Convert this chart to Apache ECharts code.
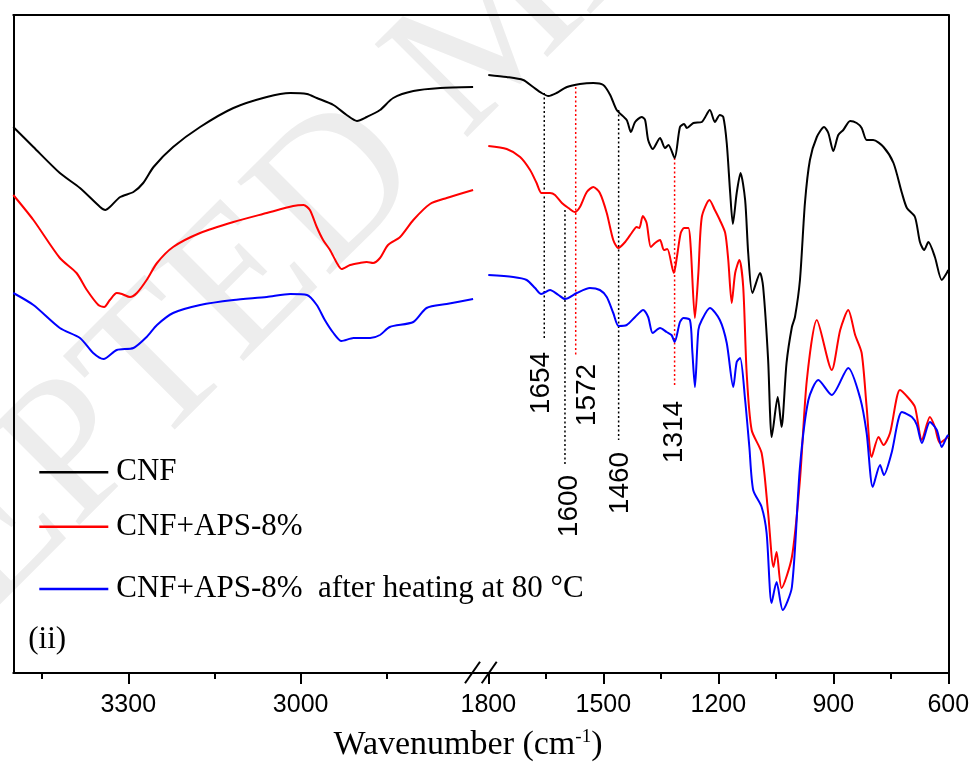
<!DOCTYPE html>
<html>
<head>
<meta charset="utf-8">
<script src="https://cdn.jsdelivr.net/npm/echarts@6/dist/echarts.min.js"></script>
<style>html,body{margin:0;padding:0;background:#fff}#c{width:973px;height:773px}</style>
</head>
<body>
<div id="c"></div>
<script>
// ---------- DATA (wavenumber in cm-1, transmittance in arbitrary units) ----------
// High-wavenumber window 3500-2700 cm-1
const cnfHighWn = [3500,3465,3419,3384,3349,3340,3332,3314,3291,3274,3256,3222,3175,3117,3059,3018,2989,2972,2943,2920,2902,2885,2862,2839,2804,2757,2700];
const cnfHighT  = [54.6,52.6,50.0,48.5,46.6,46.3,46.6,47.6,48.1,49.0,50.6,52.6,54.6,56.5,57.6,58.0,57.9,57.5,56.8,55.8,55.2,55.6,56.3,57.5,58.2,58.5,58.6];

const apsHighWn = [3500,3465,3419,3390,3372,3352,3342,3332,3320,3311,3297,3285,3268,3250,3222,3175,3117,3059,3013,2995,2984,2972,2961,2949,2937,2929,2914,2897,2885,2874,2862,2848,2827,2804,2775,2746,2700];
const apsHighT  = [47.8,45.3,41.5,40.0,38.3,36.8,36.6,37.3,38.0,37.9,37.6,38.0,39.3,41.0,42.6,44.0,45.1,46.0,46.7,46.8,46.3,44.6,43.3,42.3,41.0,40.4,40.8,41.0,41.1,41.0,41.5,42.8,43.6,45.3,46.9,47.5,48.3];

const heatHighWn = [3500,3465,3419,3384,3361,3343,3320,3291,3268,3250,3222,3175,3117,3059,3018,2989,2972,2958,2943,2929,2908,2879,2862,2845,2804,2781,2746,2700];
const heatHighT  = [38.0,36.8,34.5,33.5,32.0,31.4,32.3,32.5,33.6,34.8,36.0,36.8,37.3,37.6,37.9,37.8,36.8,35.3,34.0,33.2,33.5,33.5,33.8,34.6,35.1,36.5,36.9,37.4];

// Fingerprint window 1800-600 cm-1
const cnfLowWn = [1800,1752,1709,1683,1661,1643,1622,1595,1561,1526,1500,1482,1465,1439,1428,1417,1400,1391,1383,1371,1352,1339,1330,1314,1300,1289,1282,1265,1243,1222,1209,1196,1187,1178,1169,1162,1152,1142,1130,1122,1111,1091,1083,1070,1065,1061,1045,1035,1022,1008,1000,987,974,961,943,924,913,900,887,874,856,839,826,813,796,769,743,721,708,687,674,663,652,635,617,604,600];
const cnfLowT  = [59.8,59.6,59.3,58.6,58.0,57.7,58.0,58.6,58.9,59.0,58.8,57.8,56.3,55.3,54.1,55.1,55.6,55.3,53.3,52.4,53.5,52.5,52.8,51.5,54.6,54.9,54.5,55.0,55.1,56.3,55.1,55.8,55.6,53.0,48.0,44.9,48.0,50.0,47.3,42.0,38.0,40.0,38.6,31.3,26.0,23.6,27.6,24.6,31.0,34.6,35.6,39.3,47.0,51.3,53.6,54.6,54.0,52.2,53.8,54.3,55.2,55.0,54.5,53.3,53.3,52.6,51.0,48.0,46.5,45.6,43.1,42.3,43.1,41.6,39.3,40.0,40.3];

const apsLowWn = [1800,1752,1717,1691,1674,1661,1639,1626,1608,1591,1574,1561,1543,1526,1509,1491,1474,1461,1443,1426,1413,1406,1397,1387,1376,1365,1352,1342,1333,1316,1308,1298,1289,1278,1272,1261,1252,1243,1223,1209,1196,1182,1174,1165,1156,1145,1135,1126,1113,1087,1070,1056,1048,1035,1008,987,969,943,904,882,861,843,826,813,800,782,769,752,726,704,687,669,648,635,622,604,600];
const apsLowT  = [52.7,52.4,51.6,50.3,49.0,48.0,48.0,47.8,47.0,46.5,46.1,46.6,48.1,48.6,48.0,46.0,43.3,42.5,43.1,44.0,44.6,44.5,45.7,45.0,42.6,43.0,43.3,42.3,42.4,40.0,41.6,44.0,44.5,44.5,42.6,35.5,40.0,45.6,47.3,46.3,45.3,44.0,41.3,37.0,40.0,41.3,38.6,30.0,24.3,22.0,16.0,10.6,12.1,8.5,11.6,19.3,29.3,35.3,30.3,34.3,36.3,33.8,32.0,26.6,21.6,23.6,22.8,24.0,28.3,27.5,26.6,23.3,25.6,24.6,23.0,23.5,23.6];

const heatLowWn = [1800,1735,1700,1678,1662,1639,1617,1600,1569,1535,1509,1491,1474,1460,1439,1417,1396,1383,1371,1352,1335,1322,1314,1300,1291,1274,1268,1261,1252,1243,1222,1196,1178,1161,1152,1143,1130,1119,1109,1087,1074,1061,1048,1032,1008,987,965,939,904,861,830,813,797,778,768,748,721,695,682,669,648,630,617,604,600];
const heatLowT  = [39.8,39.6,39.3,38.5,37.9,38.3,37.8,37.4,38.0,38.5,38.3,37.6,36.0,34.7,34.8,35.6,36.3,35.6,34.0,34.5,34.1,33.8,33.1,35.1,35.5,35.3,32.3,28.6,34.3,35.3,36.5,35.3,33.0,28.6,31.1,31.5,27.3,22.6,18.3,16.6,14.0,7.0,9.1,6.3,8.6,20.6,27.3,29.3,27.8,30.5,27.5,24.0,18.6,20.8,19.8,22.0,26.1,25.6,24.8,23.0,25.1,24.3,22.6,23.6,23.8];

// Series names
const seriesNames = ['CNF', 'CNF+APS-8%', 'CNF+APS-8%  after heating at 80 °C'];

// Axis ticks
const highMajorTicks = [3300, 3000];
const highMinorTicks = [3450, 3150, 2850];
const lowMajorTicks  = [1800, 1500, 1200, 900, 600];
const lowMinorTicks  = [1650, 1350, 1050, 750];

// Peak assignments (dotted guides)
const peakLabels   = ['1654', '1600', '1572', '1460', '1314'];
const peakWn       = [1654, 1600, 1572, 1460, 1314];
const peakTopT     = [58.0, 46.3, 58.6, 56.3, 51.5];
const peakBottomT  = [33.5, 20.8, 31.6, 23.3, 28.8];
const peakLabelWn  = [1661, 1590, 1543, 1457, 1316];
const peakLabelT   = [29.0, 16.7, 27.8, 19.0, 24.1];

// ---------- STYLE ----------
const colors = ['#000000', '#ff0000', '#0000ff'];
const peakColors = ['#000000', '#000000', '#ff0000', '#000000', '#ff0000'];
const SERIF = '"Liberation Serif", "Times New Roman", serif';
const SANS = '"Liberation Sans", Arial, sans-serif';

const zip = (xs, ys) => xs.map((x, i) => [x, ys[i]]);

const chart = echarts.init(document.getElementById('c'), null, {renderer: 'canvas'});

const GTOP = 15, GH = 658;
const YMAX = 65.8;
const axisLineStyle = {color: '#000', width: 2};

function xAxesFor(gridIndex, min, max, major, minor) {
  return [
    {gridIndex, type: 'value', min, max, inverse: true, position: 'bottom',
     axisLine: {show: true, onZero: false, lineStyle: axisLineStyle},
     axisTick: {show: true, inside: false, length: 11, customValues: major, lineStyle: {color: '#000', width: 2}},
     axisLabel: {show: true, customValues: major, margin: 20, formatter: v => String(v),
                 fontFamily: SANS, fontSize: 25, color: '#000'},
     splitLine: {show: false}},
    {gridIndex, type: 'value', min, max, inverse: true, position: 'bottom',
     axisLine: {show: false, onZero: false},
     axisTick: {show: true, inside: false, length: 6, customValues: minor, lineStyle: {color: '#000', width: 2}},
     axisLabel: {show: false}, splitLine: {show: false}},
    {gridIndex, type: 'value', min, max, inverse: true, position: 'top',
     axisLine: {show: true, onZero: false, lineStyle: axisLineStyle},
     axisTick: {show: false}, axisLabel: {show: false}, splitLine: {show: false}}
  ];
}

const lineSeries = (name, xi, yi, wn, t, color) => ({
  name, type: 'line', xAxisIndex: xi, yAxisIndex: yi,
  data: zip(wn, t), showSymbol: false, symbol: 'none', smooth: 0.25,
  color: color, itemStyle: {color: color},
  lineStyle: {color: color, width: 2}, z: 3, silent: true
});

const series = [
  lineSeries(seriesNames[0], 0, 0, cnfHighWn, cnfHighT, colors[0]),
  lineSeries(seriesNames[1], 0, 0, apsHighWn, apsHighT, colors[1]),
  lineSeries(seriesNames[2], 0, 0, heatHighWn, heatHighT, colors[2]),
  lineSeries(seriesNames[0], 3, 1, cnfLowWn, cnfLowT, colors[0]),
  lineSeries(seriesNames[1], 3, 1, apsLowWn, apsLowT, colors[1]),
  lineSeries(seriesNames[2], 3, 1, heatLowWn, heatLowT, colors[2])
];

peakWn.forEach((w, i) => {
  series.push({
    type: 'line', xAxisIndex: 3, yAxisIndex: 1, silent: true, symbol: 'none',
    data: [[w, peakTopT[i]], [w, peakBottomT[i]]],
    lineStyle: {color: peakColors[i], width: 1.5, type: [2, 2.5]}, z: 2
  });
});
series.push({
  type: 'scatter', xAxisIndex: 3, yAxisIndex: 1, silent: true,
  symbolSize: 1, itemStyle: {color: 'rgba(255,255,255,0)'},
  data: peakWn.map((w, i) => [peakLabelWn[i], peakLabelT[i], peakLabels[i]]),
  label: {show: true, position: 'inside', rotate: 90, formatter: p => p.value[2],
          fontFamily: SANS, fontSize: 28, color: '#000000', opacity: 1,
          textBorderWidth: 0, textShadowBlur: 0},
  z: 4
});

const legendItem = (name, top) => ({
  data: [name], orient: 'vertical', left: 39.3, top: top, padding: 0,
  icon: 'rect', itemWidth: 69, itemHeight: 2.6, selectedMode: false,
  textStyle: {fontFamily: SERIF, fontSize: 31, color: '#000', lineHeight: 32, padding: [0, 0, 0, 3]}
});

const option = {
  animation: false,
  backgroundColor: '#fff',
  grid: [
    {left: 13.3, top: GTOP, width: 459.8, height: GH},
    {left: 488.3, top: GTOP, width: 460, height: GH}
  ],
  xAxis: [].concat(
    xAxesFor(0, 2700, 3500, highMajorTicks, highMinorTicks),
    xAxesFor(1, 600, 1800, lowMajorTicks, lowMinorTicks)
  ),
  yAxis: [
    {gridIndex: 0, type: 'value', min: 0, max: YMAX, position: 'left',
     axisLine: {show: true, onZero: false, lineStyle: axisLineStyle},
     axisTick: {show: false}, axisLabel: {show: false}, splitLine: {show: false}},
    {gridIndex: 1, type: 'value', min: 0, max: YMAX, position: 'right',
     axisLine: {show: true, onZero: false, lineStyle: axisLineStyle},
     axisTick: {show: false}, axisLabel: {show: false}, splitLine: {show: false}}
  ],
  legend: [
    legendItem(seriesNames[0], 456.3),
    legendItem(seriesNames[1], 510.7),
    legendItem(seriesNames[2], 573)
  ],
  series: series,
  graphic: [
    {type: 'text', x: -340, y: 870, rotation: Math.PI / 4, z: -100, silent: true,
     style: {text: 'ACCEPTED MANUSCRIPT', font: '200px ' + SERIF, fill: '#ededed', textVerticalAlign: 'middle'}},
    {type: 'line', silent: true, shape: {x1: 472, y1: 673, x2: 489, y2: 673}, style: {stroke: '#000', lineWidth: 2}},
    {type: 'line', silent: true, shape: {x1: 472, y1: 15, x2: 489, y2: 15}, style: {stroke: '#000', lineWidth: 2}},
    {type: 'line', silent: true, shape: {x1: 465, y1: 683.3, x2: 480, y2: 661.7}, style: {stroke: '#000', lineWidth: 2}},
    {type: 'line', silent: true, shape: {x1: 481.7, y1: 683.3, x2: 496.7, y2: 661.7}, style: {stroke: '#000', lineWidth: 2}},
    {type: 'text', x: 28.3, y: 640, silent: true,
     style: {text: '(ii)', font: '31px ' + SERIF, fill: '#000', textVerticalAlign: 'middle'}},
    {type: 'text', x: 468, y: 745, silent: true,
     style: {text: 'Wavenumber (cm{sup|-1})', font: '34px ' + SERIF, fill: '#000',
             textAlign: 'center', textVerticalAlign: 'middle',
             rich: {sup: {fontSize: 19, fontFamily: SERIF, fill: '#000', padding: [0, 0, 16, 0]}}}}
  ]
};

chart.setOption(option);
</script>
</body>
</html>
